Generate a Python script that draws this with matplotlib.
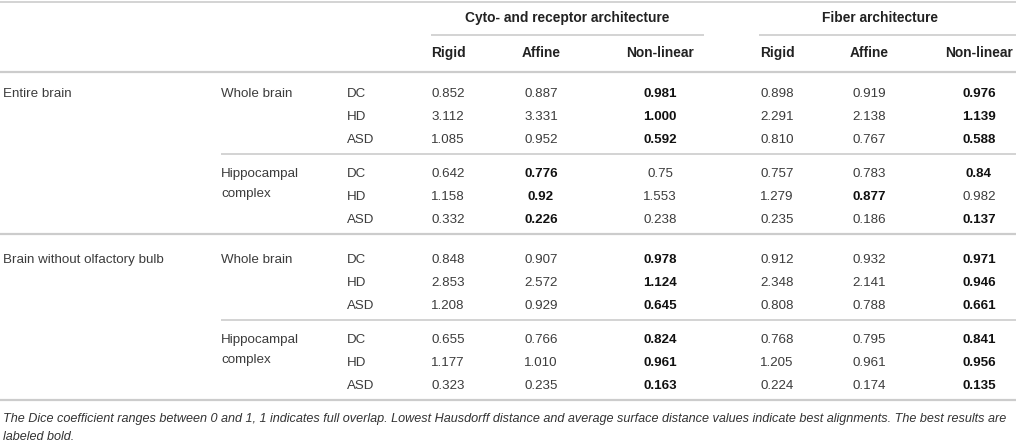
import matplotlib
matplotlib.use('Agg')
import matplotlib.pyplot as plt

# --- table content ---
groups = ['Cyto- and receptor architecture', 'Fiber architecture']
methods = ['Rigid', 'Affine', 'Non-linear']
brains = ['Entire brain', 'Brain without olfactory bulb']
regions = [['Whole brain'], ['Hippocampal', 'complex']]
measures = ['DC', 'HD', 'ASD']

# values as printed (strings keep trailing zeros), one row per measure
entire_whole = [['0.852', '0.887', '0.981', '0.898', '0.919', '0.976'],
                ['3.112', '3.331', '1.000', '2.291', '2.138', '1.139'],
                ['1.085', '0.952', '0.592', '0.810', '0.767', '0.588']]
entire_hippo = [['0.642', '0.776', '0.75', '0.757', '0.783', '0.84'],
                ['1.158', '0.92', '1.553', '1.279', '0.877', '0.982'],
                ['0.332', '0.226', '0.238', '0.235', '0.186', '0.137']]
noob_whole = [['0.848', '0.907', '0.978', '0.912', '0.932', '0.971'],
              ['2.853', '2.572', '1.124', '2.348', '2.141', '0.946'],
              ['1.208', '0.929', '0.645', '0.808', '0.788', '0.661']]
noob_hippo = [['0.655', '0.766', '0.824', '0.768', '0.795', '0.841'],
              ['1.177', '1.010', '0.961', '1.205', '0.961', '0.956'],
              ['0.323', '0.235', '0.163', '0.224', '0.174', '0.135']]

# bold flags (best results)
entire_whole_bold = [[0, 0, 1, 0, 0, 1], [0, 0, 1, 0, 0, 1], [0, 0, 1, 0, 0, 1]]
entire_hippo_bold = [[0, 1, 0, 0, 0, 1], [0, 1, 0, 0, 1, 0], [0, 1, 0, 0, 0, 1]]
noob_whole_bold = [[0, 0, 1, 0, 0, 1], [0, 0, 1, 0, 0, 1], [0, 0, 1, 0, 0, 1]]
noob_hippo_bold = [[0, 0, 1, 0, 0, 1], [0, 0, 1, 0, 0, 1], [0, 0, 1, 0, 0, 1]]

caption = ['The Dice coefficient ranges between 0 and 1, 1 indicates full overlap. '
           'Lowest Hausdorff distance and average surface distance values indicate '
           'best alignments. The best results are',
           'labeled bold.']

blocks = [(entire_whole, entire_whole_bold), (entire_hippo, entire_hippo_bold),
          (noob_whole, noob_whole_bold), (noob_hippo, noob_hippo_bold)]

# --- layout (pixel coords, y down) ---
W, H = 1016, 443
FONT = 'Liberation Sans'
FS = 9.6
FS_HEAD = 9.9
TXT = '#3c3c3c'
LINE = '#cccccc'
col_x = [448, 541, 660, 777, 869, 979]
group_x = [567, 880]
group_span = [(431, 704), (759, 1016)]
brain_x, region_x, meas_x = 3, 221, 347
block_top = [92, 172, 258, 338]
row_step = 23
cap_off = 4.8  # baseline offset so caps sit centred on the row

fig = plt.figure(figsize=(W / 100, H / 100), dpi=100)
ax = fig.add_axes([0, 0, 1, 1])
ax.set_xlim(0, W)
ax.set_ylim(H, 0)
ax.axis('off')


def hline(y, x0=0, x1=W, lw=1.2):
    ax.plot([x0, x1], [y, y], color=LINE, lw=lw, solid_capstyle='butt')


def cell(x, y, s, ha='left', bold=False, size=FS, color=TXT):
    ax.text(x, y + cap_off, s, ha=ha, va='baseline', fontsize=size,
            fontweight='bold' if bold else 'normal', family=FONT, color=color)


# header
hline(2)
for g, gx, (a, b) in zip(groups, group_x, group_span):
    cell(gx, 17, g, ha='center', bold=True, size=FS_HEAD, color='#222222')
    hline(35, a, b)
for i, cx in enumerate(col_x):
    cell(cx, 52, methods[i % 3], ha='center', bold=True, size=FS_HEAD, color='#222222')
hline(72, lw=1.6)

# body
for b, (vals, bold) in enumerate(blocks):
    y0 = block_top[b]
    if b % 2 == 0:
        cell(brain_x, y0, brains[b // 2])
    for k, part in enumerate(regions[b % 2]):
        cell(region_x, y0 + k * 20, part)
    for r, m in enumerate(measures):
        y = y0 + r * row_step
        cell(meas_x, y, m)
        for c, v in enumerate(vals[r]):
            if bold[r][c]:
                cell(col_x[c], y, v, ha='center', bold=True, color='#111111')
            else:
                cell(col_x[c], y, v, ha='center')
    y_line = y0 + 2 * row_step + 16
    if b % 2 == 0:
        hline(y_line, region_x)
    else:
        hline(y_line, lw=1.6)

for k, line in enumerate(caption):
    ax.text(3, 418 + k * 18 + 4, line, ha='left', va='baseline', fontsize=9.1,
            style='italic', family=FONT, color='#333333')

fig.savefig('out.png', dpi=100)
